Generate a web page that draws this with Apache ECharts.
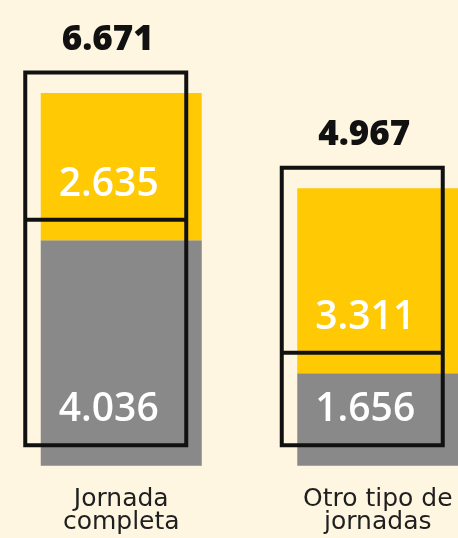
<!DOCTYPE html>
<html>
<head>
<meta charset="utf-8">
<script src="https://cdn.jsdelivr.net/npm/echarts@6/dist/echarts.min.js"></script>
<style>
  html, body { margin: 0; padding: 0; background: #fef6e0; }
  #chart { width: 458px; height: 538px; }
</style>
</head>
<body>
<div id="chart"></div>
<script>
// Contract types and the two stacked segments per bar
const categories = ['Jornada\ncompleta', 'Otro tipo de\njornadas'];
const greyValues = [4036, 1656];
const yellowValues = [2635, 3311];
const totals = greyValues.map((v, i) => v + yellowValues[i]);

const NUM_FONT = '"Open Sans", sans-serif';
const CAT_FONT = '"DejaVu Sans", sans-serif';
const fmt = v => String(v).replace(/\B(?=(\d{3})+(?!\d))/g, '.');

const Y_MAX = 7000;
const BAR_W = 161;
const FRAME_W = 4;

const chart = echarts.init(document.getElementById('chart'), null, { renderer: 'canvas' });

const innerLabel = {
  show: true,
  position: 'insideBottom',
  distance: 15,
  color: '#ffffff',
  fontFamily: NUM_FONT,
  fontWeight: 600,
  fontSize: 39,
  lineHeight: 40,
  textBorderWidth: 0,
  offset: [3, 0],
  formatter: p => fmt(p.value)
};

// Outline frame of a stacked bar: outer box from 0 to total, divider at the grey value
function renderFrame(params, api) {
  const cat = api.value(0);
  const base = api.coord([cat, 0]);
  const mid = api.coord([cat, api.value(1)]);
  const top = api.coord([cat, api.value(2)]);
  const x = base[0] - BAR_W / 2;
  const style = { fill: null, stroke: '#111111', lineWidth: FRAME_W };
  return {
    type: 'group',
    children: [
      { type: 'rect', shape: { x: x, y: top[1], width: BAR_W, height: base[1] - top[1] }, style: style },
      { type: 'line', shape: { x1: x, y1: mid[1], x2: x + BAR_W, y2: mid[1] }, style: style }
    ]
  };
}

chart.setOption({
  backgroundColor: '#fef6e0',
  animation: false,
  grid: [
    // filled bars
    { left: -7, width: 513, top: 74.6, bottom: 72.3, outerBoundsMode: 'none', containLabel: false },
    // outline frames, shifted up and to the left
    { left: -22.5, width: 513, top: 54.2, bottom: 92.7, outerBoundsMode: 'none', containLabel: false }
  ],
  xAxis: [
    {
      gridIndex: 0, type: 'category', data: categories,
      axisLine: { show: false }, axisTick: { show: false },
      axisLabel: {
        margin: 22, color: '#1f1f1f', fontFamily: CAT_FONT, fontSize: 25,
        lineHeight: 23, interval: 0, hideOverlap: false
      }
    },
    { gridIndex: 1, type: 'category', data: categories, show: false }
  ],
  yAxis: [
    { gridIndex: 0, type: 'value', min: 0, max: Y_MAX, show: false },
    { gridIndex: 1, type: 'value', min: 0, max: Y_MAX, show: false }
  ],
  series: [
    {
      type: 'bar', xAxisIndex: 0, yAxisIndex: 0, stack: 'fill',
      barWidth: BAR_W, data: greyValues,
      itemStyle: { color: '#898989' }
    },
    {
      type: 'bar', xAxisIndex: 0, yAxisIndex: 0, stack: 'fill',
      barWidth: BAR_W, data: yellowValues,
      itemStyle: { color: '#ffc904' }
    },
    {
      type: 'custom', xAxisIndex: 1, yAxisIndex: 1, z: 5,
      data: categories.map((c, i) => [i, greyValues[i], totals[i]]),
      renderItem: renderFrame,
      silent: true
    },
    // invisible stacked bars on the frame axes carry the value labels
    {
      type: 'bar', xAxisIndex: 1, yAxisIndex: 1, stack: 'frame',
      barWidth: BAR_W, data: greyValues, z: 6,
      itemStyle: { color: 'rgba(0,0,0,0)' },
      label: innerLabel
    },
    {
      type: 'bar', xAxisIndex: 1, yAxisIndex: 1, stack: 'frame',
      barWidth: BAR_W, data: yellowValues, z: 6,
      itemStyle: { color: 'rgba(0,0,0,0)' },
      label: innerLabel
    },
    {
      // totals written above each frame
      type: 'bar', xAxisIndex: 1, yAxisIndex: 1, stack: 'frame',
      barWidth: BAR_W, data: totals.map(() => 0), z: 6,
      itemStyle: { color: 'rgba(0,0,0,0)' },
      label: {
        show: true, position: 'top', distance: 15,
        color: '#111111', fontFamily: NUM_FONT, fontWeight: 800,
        fontSize: 35, lineHeight: 36, textBorderWidth: 0,
        offset: [2, 0],
        formatter: p => fmt(totals[p.dataIndex])
      }
    }
  ]
});
</script>
</body>
</html>
